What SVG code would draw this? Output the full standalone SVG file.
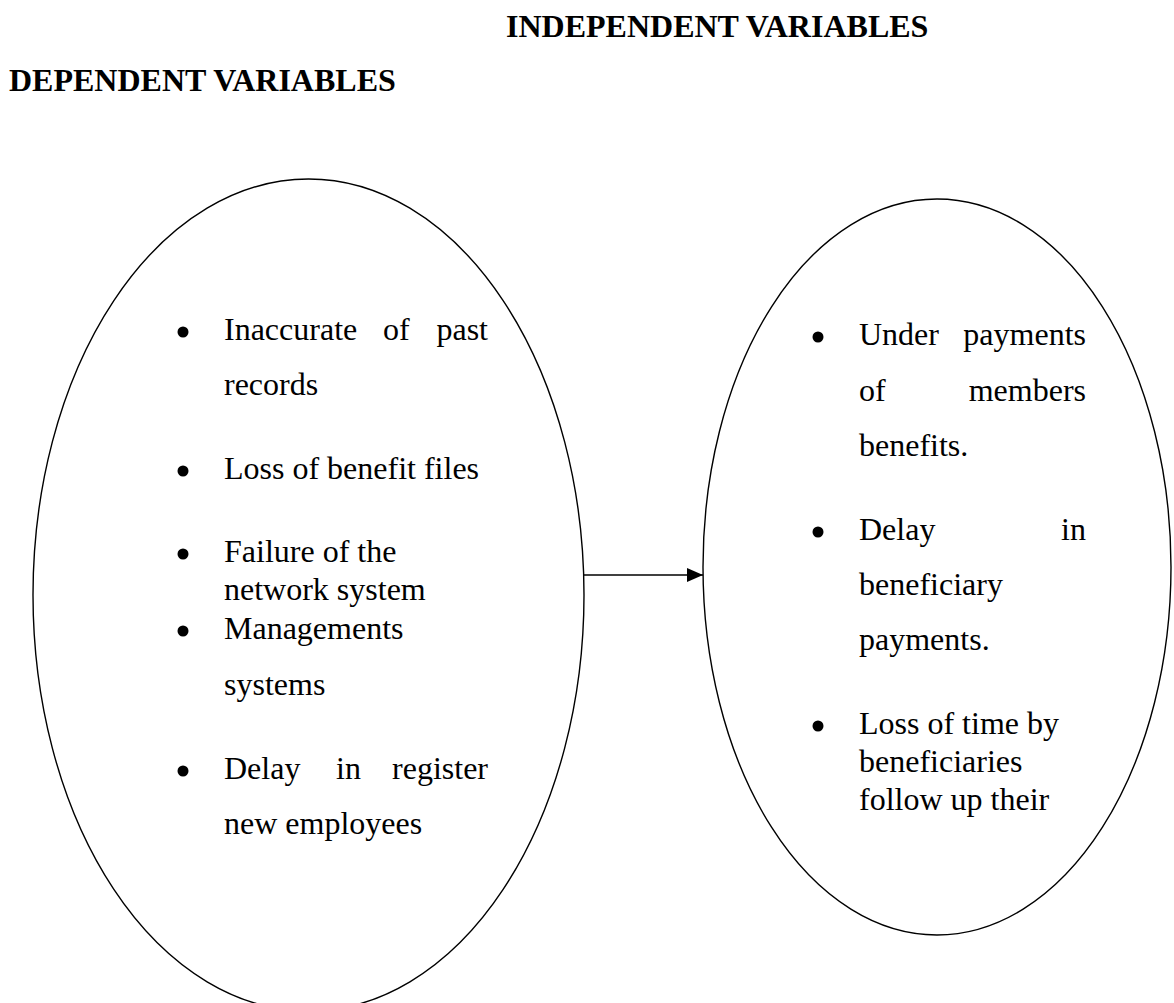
<svg xmlns="http://www.w3.org/2000/svg" width="1174" height="1003" viewBox="0 0 1174 1003">
<style>
.title{font-family:"Liberation Serif","Times New Roman",serif;font-weight:bold;font-size:32px;fill:#000}
.t{font-family:"Liberation Serif","Times New Roman",serif;font-size:32px;fill:#000}
.e{fill:none;stroke:#000;stroke-width:1.4}
.b{fill:#000}
</style>
<defs>
<marker id="arr" markerWidth="16" markerHeight="14" refX="16" refY="7" orient="auto" markerUnits="userSpaceOnUse">
<path d="M0,0 L16,7 L0,14 Z" fill="#000"/>
</marker>
</defs>
<rect width="1174" height="1003" fill="#fff"/>
<text class="title" x="506" y="37">INDEPENDENT VARIABLES</text>
<text class="title" x="9" y="91">DEPENDENT VARIABLES</text>
<g id="node-left">
<ellipse class="e" cx="308.5" cy="595" rx="275.5" ry="416"/>
<circle class="b" cx="183" cy="332" r="5.5"/>
<text class="t" x="224" y="340">Inaccurate</text>
<text class="t" x="383" y="340">of</text>
<text class="t" x="488" y="340" text-anchor="end">past</text>
<text class="t" x="224" y="395">records</text>
<circle class="b" cx="183" cy="471" r="5.5"/>
<text class="t" x="224" y="479">Loss of benefit files</text>
<circle class="b" cx="183" cy="554" r="5.5"/>
<text class="t" x="224" y="562">Failure of the</text>
<text class="t" x="224" y="600">network system</text>
<circle class="b" cx="183" cy="631" r="5.5"/>
<text class="t" x="224" y="639">Managements</text>
<text class="t" x="224" y="695">systems</text>
<circle class="b" cx="183" cy="771" r="5.5"/>
<text class="t" x="224" y="779">Delay</text>
<text class="t" x="336" y="779">in</text>
<text class="t" x="488" y="779" text-anchor="end">register</text>
<text class="t" x="224" y="834">new employees</text>
</g>
<g id="node-right">
<ellipse class="e" cx="937" cy="567" rx="234" ry="368"/>
<circle class="b" cx="818" cy="337" r="5.5"/>
<text class="t" x="859" y="345">Under</text>
<text class="t" x="1086" y="345" text-anchor="end">payments</text>
<text class="t" x="859" y="401">of</text>
<text class="t" x="1086" y="401" text-anchor="end">members</text>
<text class="t" x="859" y="456">benefits.</text>
<circle class="b" cx="818" cy="532" r="5.5"/>
<text class="t" x="859" y="540">Delay</text>
<text class="t" x="1086" y="540" text-anchor="end">in</text>
<text class="t" x="859" y="595">beneficiary</text>
<text class="t" x="859" y="650">payments.</text>
<circle class="b" cx="818" cy="726" r="5.5"/>
<text class="t" x="859" y="734">Loss of time by</text>
<text class="t" x="859" y="772">beneficiaries</text>
<text class="t" x="859" y="810">follow up their</text>
</g>
<g id="connectors">
<line x1="584" y1="575" x2="703" y2="575" stroke="#000" stroke-width="1.5" marker-end="url(#arr)"/>
</g>
</svg>
